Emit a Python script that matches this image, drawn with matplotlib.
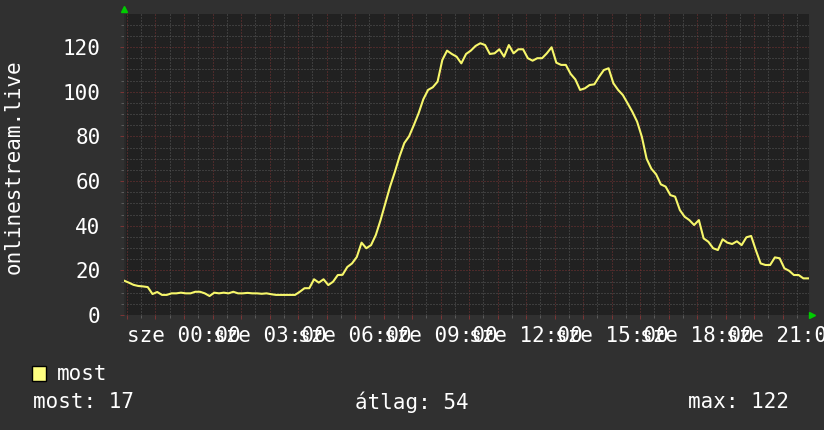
import matplotlib
matplotlib.use('Agg')
import matplotlib.pyplot as plt
from matplotlib.ticker import MultipleLocator, FuncFormatter
from matplotlib.patches import Rectangle
import numpy as np

# samples every 10 minutes, starting at 21:54 the day before (hours relative to midnight)
start_hour = -2.105
step_hour = 1 / 6
span_hours = 24.03
most = [15.4, 14.5, 13.5, 13.0, 12.8, 12.5, 9.4, 10.3, 9.0, 9.0,
        9.7, 9.7, 10.0, 9.7, 9.7, 10.4, 10.4, 9.7, 8.5, 10.0,
        9.7, 10.0, 9.7, 10.4, 9.7, 9.7, 9.9, 9.7, 9.7, 9.5,
        9.7, 9.3, 9.0, 9.0, 9.0, 9.0, 9.0, 10.4, 12.0, 12.0,
        16.0, 14.5, 16.0, 13.4, 14.9, 17.9, 18.0, 21.5, 23.1, 26.0,
        32.4, 29.9, 31.3, 35.8, 42.5, 50.0, 57.5, 64.0, 71.0, 77.0,
        80.0, 85.0, 90.3, 96.6, 100.8, 102.0, 104.5, 114.2, 118.4, 116.9,
        115.7, 112.7, 116.9, 118.4, 120.5, 121.7, 120.9, 116.9, 117.2, 119.0,
        115.7, 120.9, 117.2, 119.0, 119.0, 115.0, 113.9, 115.0, 115.0, 117.2,
        119.9, 113.0, 112.0, 112.0, 108.0, 105.5, 100.8, 101.5, 103.0, 103.3,
        106.7, 109.7, 110.5, 103.8, 100.8, 98.5, 94.8, 91.0, 86.6, 79.8,
        70.0, 65.5, 63.0, 58.5, 57.5, 53.7, 53.0, 47.0, 44.0, 42.5,
        40.3, 42.5, 34.3, 32.8, 29.9, 29.1, 33.9, 32.4, 31.8, 33.0,
        31.3, 34.8, 35.4, 29.0, 23.1, 22.4, 22.4, 25.8, 25.4, 20.9,
        19.8, 17.9, 17.9, 16.4, 16.4]
series_name = 'most'
ylabel = 'onlinestream.live'
day = 'sze'
stat_labels = ['most', 'átlag', 'max']
stat_values = [17, 54, 122]

t = start_hour + step_hour * np.arange(len(most))

plt.rcParams['font.family'] = 'DejaVu Sans Mono'
fs = 15

fig = plt.figure(figsize=(8.24, 4.30), dpi=100, facecolor='#303030')
W, H = 824, 430
ax = fig.add_axes([124 / W, 1 - 315 / H, 685 / W, 301 / H])
ax.set_facecolor('#212121')

ax.plot(t, most, color='#f7f76b', linewidth=1.5, zorder=3)

ax.set_xlim(start_hour, start_hour + span_hours)
ax.set_ylim(0, 134.8)

ax.xaxis.set_major_locator(MultipleLocator(1))
ax.xaxis.set_minor_locator(MultipleLocator(0.5))
ax.yaxis.set_major_locator(MultipleLocator(20))
ax.yaxis.set_minor_locator(MultipleLocator(5))


def hour_label(x, pos):
    h = int(round(x))
    if h % 3 != 0:
        return ''
    return f'{day} {h % 24:02d}:00'


ax.xaxis.set_major_formatter(FuncFormatter(hour_label))

dots = (0, (1, 2))
ax.grid(which='major', color='#7a3434', linestyle=dots, linewidth=0.72)
ax.grid(which='minor', color='#5a5a5a', linestyle=dots, linewidth=0.72)
ax.set_axisbelow(True)

ax.tick_params(which='major', axis='both', colors='#7a3434', length=3, width=0.72,
               labelcolor='white', labelsize=fs)
ax.tick_params(which='minor', axis='both', colors='#5a5a5a', length=2, width=0.72)
ax.tick_params(axis='x', pad=5)
ax.tick_params(axis='y', pad=14)

for s in ax.spines.values():
    s.set_visible(False)
ax.axvline(start_hour, color='#2a2a2a', linewidth=2, zorder=2)

# green arrow heads at axis ends
ax.plot([0], [1.015], marker='^', color='#00cc00', markersize=5,
        transform=ax.transAxes, clip_on=False, zorder=5)
ax.plot([1.004], [0], marker='>', color='#00cc00', markersize=5,
        transform=ax.transAxes, clip_on=False, zorder=5)

fig.text(14 / W, 1 - 167 / H, ylabel, rotation=90, ha='center', va='center',
         color='white', fontsize=fs)

# legend
fig.patches.append(Rectangle((32 / W, 1 - 381 / H), 14 / W, 15 / H,
                             transform=fig.transFigure, facecolor='#ffff80',
                             edgecolor='black', linewidth=1))
fig.text(57 / W, 1 - 374 / H, series_name, ha='left', va='center',
         color='white', fontsize=fs)
stat_x = [33, 355, 688]
for x, lab, val in zip(stat_x, stat_labels, stat_values):
    fig.text(x / W, 1 - 402 / H, f'{lab}: {val}', ha='left', va='center',
             color='white', fontsize=fs)

fig.savefig('out.png', dpi=100, facecolor=fig.get_facecolor())
